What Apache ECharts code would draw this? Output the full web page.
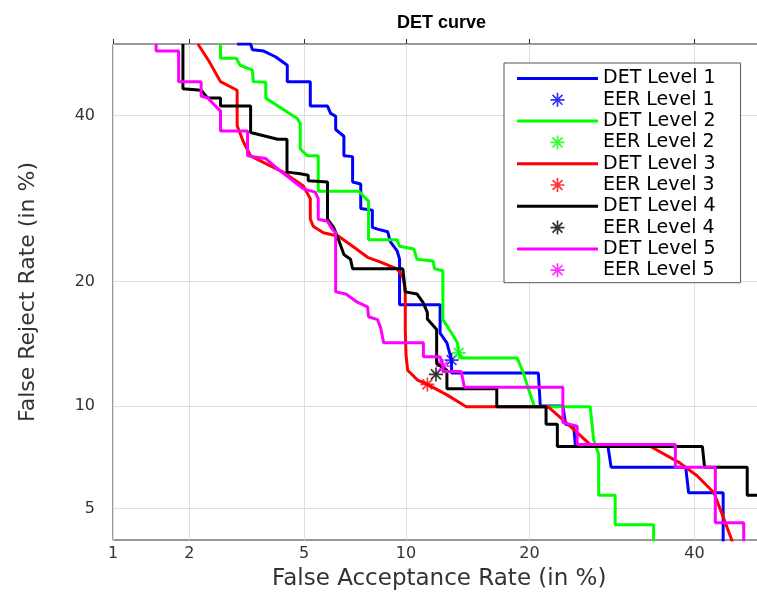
<!DOCTYPE html>
<html>
<head>
<meta charset="utf-8">
<script src="https://cdn.jsdelivr.net/npm/echarts@6/dist/echarts.min.js"></script>
<style>
html,body{margin:0;padding:0;overflow:hidden;background:#fff;}
#c{width:767px;height:597px;}
</style>
</head>
<body>
<div id="c"></div>
<script>
// ---- data (percent values) ----
const xTicks = [1, 2, 5, 10, 20, 40];
const yTicks = [5, 10, 20, 40];
const seriesNames = ['Level 1', 'Level 2', 'Level 3', 'Level 4', 'Level 5'];
const colors = ['#0000ff', '#00ff00', '#ff0000', '#000000', '#ff00ff'];

const det1FAR = [2.98,3.32,3.37,3.68,4.03,4.41,4.41,5.23,5.23,5.92,6.05,6.27,6.27,6.64,6.64,7.05,7.05,7.45,7.45,8.05,8.05,8.33,8.9,9.05,9.45,9.6,9.6,12.3,12.3,12.8,13.15,13.15,20.9,21.1,23.5,23.8,24.7,24.9,28.7,29.1,38.8,39.2,44,44];
const det1FRR = [50,50,49.2,49.0,48.2,47.0,44.7,44.7,41.3,41.3,40.3,39.9,38.1,37.2,34.6,34.5,31.25,31.0,28,27.8,25.8,25.6,25.3,24.2,23.2,22.3,17.8,17.8,15.3,14.5,13.15,12.2,12.2,10,10,8.9,8.8,7.75,7.75,6.7,6.7,5.6,5.6,3.9];

const det2FAR = [2.6,2.6,2.96,3.05,3.37,3.39,3.74,3.74,4.75,4.86,4.86,5.12,5.54,5.54,7.35,7.85,7.85,9.45,9.6,10.5,10.7,11.8,11.9,12.5,12.5,13.15,13.6,13.7,13.9,18.8,19.35,19.9,20.5,26.6,27.0,27.6,27.6,29.6,29.6,34.5,34.5];
const det2FRR = [50,48,48,47,46.3,44.7,44.6,42.4,39.6,38.9,35.5,34.6,34.6,30.1,30.1,28.9,24.4,24.4,23.7,23.4,22.3,22.1,21.3,21.1,16.45,15.3,14.5,13.7,13.3,13.3,12.3,11.1,9.95,9.95,8.05,7.3,5.5,5.5,4.43,4.43,3.9];

const det3FAR = [2.15,2.36,2.6,2.98,2.98,3.13,3.32,3.74,4.28,4.97,5.23,5.23,5.35,5.75,6.4,7.05,7.8,8.5,9.45,9.8,9.95,9.95,10,10.1,10.75,11.4,12.8,14.3,21.9,24.3,26.6,34.1,38.0,40.4,42.7,44,45.3];
const det3FRR = [50,47.6,44.7,43.5,38.6,36.5,34.6,33.6,32.5,30.75,29.2,26.75,25.9,25.2,24.8,23.7,22.5,22,21.3,20.5,19.3,15.6,13.5,12.4,11.7,11.4,10.7,9.95,9.95,8.8,7.8,7.7,6.9,6.3,5.6,4.7,3.9];

const det4FAR = [1.89,1.89,2.21,2.34,2.6,2.6,3.32,3.32,4.1,4.4,4.4,4.86,5.15,5.15,5.92,5.92,6.18,6.4,6.64,6.95,7.05,9.8,9.95,10.7,11.1,11.4,11.4,12.05,12.05,12.8,12.8,16.9,16.9,21.7,21.7,22.9,22.9,41.1,41.4,47.4,47.4,50];
const det4FRR = [50,43.7,43.5,42.4,42.4,41.3,41.3,37.7,36.8,36.8,32.5,32.3,32.1,31.4,31.25,26.75,25.8,24.4,22.8,22.3,21.3,21.3,19,18.8,18,17.1,16.5,15.6,12.9,12.4,11.1,11.1,9.95,9.95,8.9,8.9,7.7,7.7,6.7,6.7,5.5,5.5];

const det5FAR = [1.49,1.49,1.82,1.82,2.21,2.21,2.34,2.6,2.6,3.24,3.24,3.74,4.1,4.4,4.75,4.97,5.42,5.54,5.54,5.92,6.14,6.27,6.27,6.73,7.3,7.8,7.85,8.33,8.5,8.67,11.13,11.13,12.3,12.5,12.5,13.9,14.15,23.5,23.5,25.1,25.1,37.4,37.4,42.9,42.9,46.9,46.9];
const det5FRR = [50,49,49,44.7,44.7,42.7,42.4,40.6,37.9,37.9,34.6,34.25,32.9,32,31,30.4,30,29.2,26.75,26.5,25.55,25.2,19,18.8,18,17.6,16.7,16.45,15.75,14.5,14.5,13.4,13.4,12.7,12.3,12.3,11.2,11.2,9,8.8,7.8,7.8,6.7,6.7,4.5,4.5,3.9];

const eerFAR = [13.15, 13.7, 11.4, 12.0, 12.5];
const eerFRR = [13.15, 13.7, 11.4, 12.1, 12.7];

// ---- normal deviate (probit) scale ----
function probit(p) {
  const a=[-3.969683028665376e+01,2.209460984245205e+02,-2.759285104469687e+02,1.383577518672690e+02,-3.066479806614716e+01,2.506628277459239e+00];
  const b=[-5.447609879822406e+01,1.615858368580409e+02,-1.556989798598866e+02,6.680131188771972e+01,-1.328068155288572e+01];
  const c=[-7.784894002430293e-03,-3.223964580411365e-01,-2.400758277161838e+00,-2.549732539343734e+00,4.374664141464968e+00,2.938163982698783e+00];
  const d=[7.784695709041462e-03,3.224671290700398e-01,2.445134137142996e+00,3.754408661907416e+00];
  const pl=0.02425, ph=1-pl; let q, r;
  if (p < pl) { q=Math.sqrt(-2*Math.log(p)); return (((((c[0]*q+c[1])*q+c[2])*q+c[3])*q+c[4])*q+c[5])/((((d[0]*q+d[1])*q+d[2])*q+d[3])*q+1); }
  if (p <= ph) { q=p-0.5; r=q*q; return (((((a[0]*r+a[1])*r+a[2])*r+a[3])*r+a[4])*r+a[5])*q/(((((b[0]*r+b[1])*r+b[2])*r+b[3])*r+b[4])*r+1); }
  q=Math.sqrt(-2*Math.log(1-p)); return -(((((c[0]*q+c[1])*q+c[2])*q+c[3])*q+c[4])*q+c[5])/((((d[0]*q+d[1])*q+d[2])*q+d[3])*q+1);
}
const pz = v => probit(v / 100);
const xTickVals = xTicks.map(pz);
const yTickVals = yTicks.map(pz);
function tickFmt(ticks) {
  return function (v) {
    for (const t of ticks) if (Math.abs(pz(t) - v) < 1e-6) return String(t);
    return '';
  };
}

const farList = [det1FAR, det2FAR, det3FAR, det4FAR, det5FAR];
const frrList = [det1FRR, det2FRR, det3FRR, det4FRR, det5FRR];

const star = 'path://M-10,-1.2L10,-1.2L10,1.2L-10,1.2Z M1.2,-10L1.2,10L-1.2,10L-1.2,-10Z M-6.22,-7.92L7.92,6.22L6.22,7.92L-7.92,-6.22Z M-7.92,6.22L6.22,-7.92L7.92,-6.22L-6.22,7.92Z';
const lineIcon = 'path://M0,0L81,0L81,3L0,3Z';

const series = [];
const legendData = [];
for (let i = 0; i < 5; i++) {
  series.push({
    name: 'DET ' + seriesNames[i],
    type: 'line',
    symbol: 'none',
    clip: true,
    lineStyle: { color: colors[i], width: 3 },
    itemStyle: { color: colors[i] },
    data: farList[i].map((f, k) => [pz(f), pz(frrList[i][k])])
  });
  series.push({
    name: 'EER ' + seriesNames[i],
    type: 'scatter',
    symbol: star,
    symbolSize: 14,
    itemStyle: { color: colors[i] },
    data: [[pz(eerFAR[i]), pz(eerFRR[i])]]
  });
  legendData.push({ name: 'DET ' + seriesNames[i], icon: lineIcon, itemStyle: { color: colors[i] } });
  legendData.push({ name: 'EER ' + seriesNames[i], icon: star });
}

const font = 'DejaVu Sans';
const chart = echarts.init(document.getElementById('c'), null, { renderer: 'canvas' });
chart.setOption({
  animation: false,
  backgroundColor: '#fff',
  title: {
    text: 'DET curve',
    left: 392, top: 9,
    textStyle: { fontFamily: 'Liberation Sans', fontWeight: 'bold', fontSize: 18, color: '#000' }
  },
  grid: {
    left: 113, top: 44, right: 1.5, bottom: 57,
    show: true, borderColor: '#333', borderWidth: 1, backgroundColor: 'transparent'
  },
  legend: {
    orient: 'vertical',
    left: 504, top: 63,
    padding: [5, 25, 2, 13],
    itemWidth: 81, itemHeight: 14, itemGap: 0.3,
    borderColor: '#555', borderWidth: 1, backgroundColor: '#fff',
    selectedMode: false,
    textStyle: { fontFamily: font, fontSize: 19, color: '#000', lineHeight: 21 },
    data: legendData
  },
  xAxis: [{
    type: 'value',
    position: 'bottom',
    min: pz(1), max: 0,
    axisLine: { show: false },
    axisTick: { show: true, inside: true, length: 5, customValues: xTickVals, lineStyle: { color: '#333' } },
    axisLabel: { customValues: xTickVals, formatter: tickFmt(xTicks), margin: 6, fontFamily: font, fontSize: 16, color: '#333' },
    splitLine: { show: true, lineStyle: { color: '#dedede', width: 1 } },
    name: 'False Acceptance Rate (in %)',
    nameLocation: 'middle', nameGap: 28,
    nameTextStyle: { fontFamily: font, fontSize: 23, color: '#333' }
  }],
  yAxis: [{
    type: 'value',
    min: pz(3.95), max: 0,
    axisLine: { show: false },
    axisTick: { show: true, inside: true, length: 5, customValues: yTickVals, lineStyle: { color: '#333' } },
    axisLabel: { customValues: yTickVals, formatter: tickFmt(yTicks), margin: 18, fontFamily: font, fontSize: 16, color: '#333' },
    splitLine: { show: true, lineStyle: { color: '#dedede', width: 1 } },
    name: 'False Reject Rate (in %)',
    nameLocation: 'middle', nameGap: 74,
    nameTextStyle: { fontFamily: font, fontSize: 22, color: '#333' }
  }],
  series: series
});
</script>
</body>
</html>
